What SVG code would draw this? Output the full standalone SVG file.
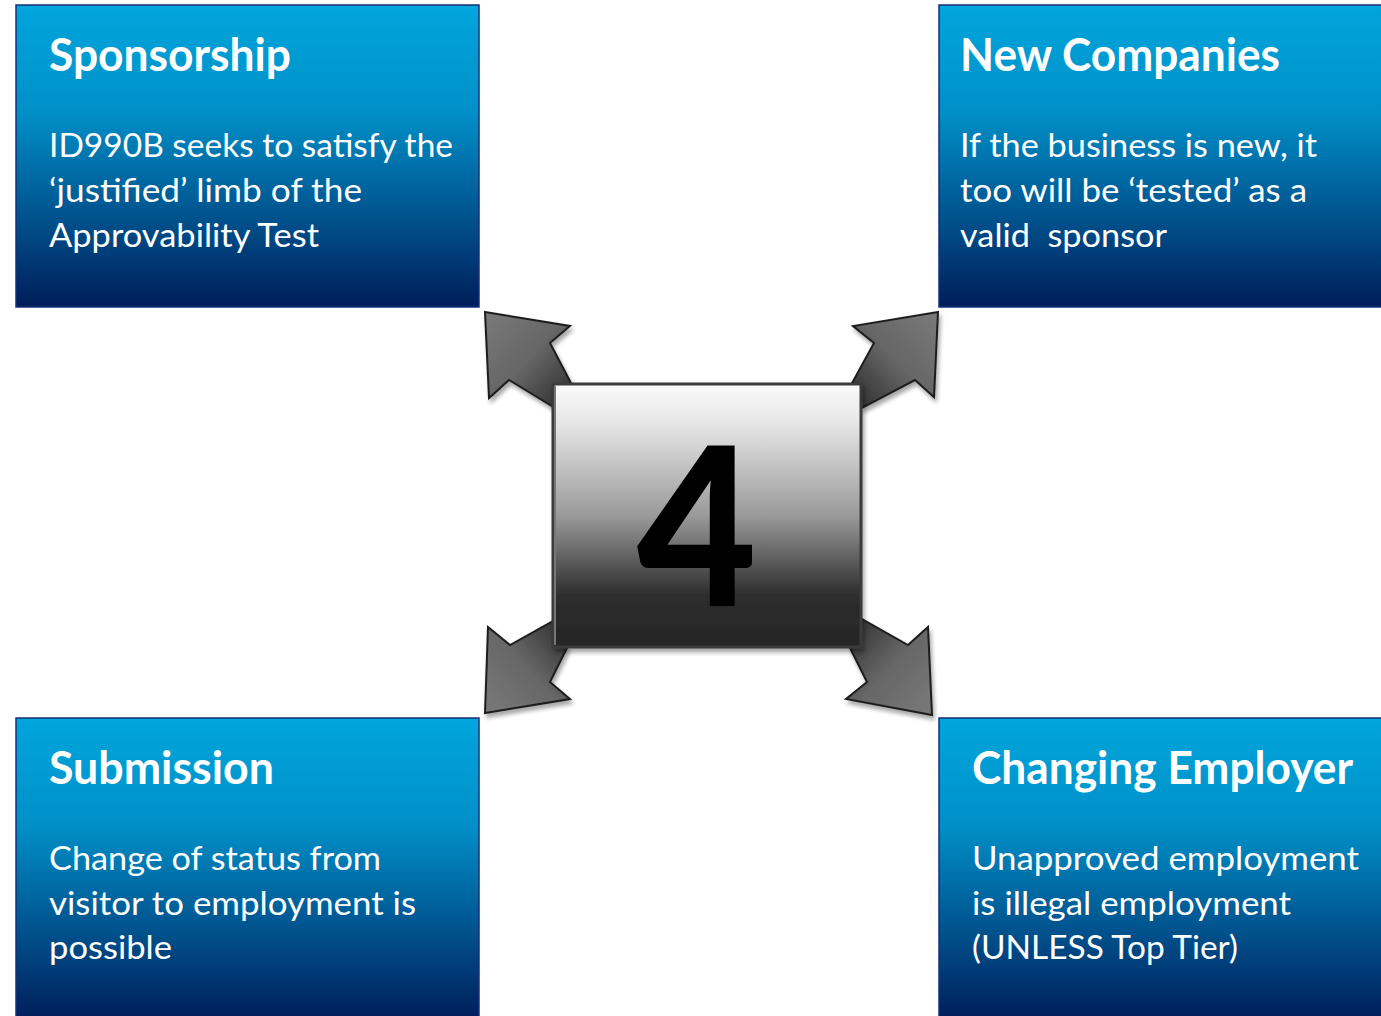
<svg xmlns="http://www.w3.org/2000/svg" width="1381" height="1016" viewBox="0 0 1381 1016">
<defs>
  <linearGradient id="blue" x1="0" y1="0" x2="0" y2="1">
    <stop offset="0" stop-color="#00A6DC"/>
    <stop offset="0.35" stop-color="#0090C8"/>
    <stop offset="0.7" stop-color="#00538E"/>
    <stop offset="1" stop-color="#001E5A"/>
  </linearGradient>
  <linearGradient id="center" x1="0" y1="0" x2="0" y2="1">
    <stop offset="0" stop-color="#FBFBFB"/>
    <stop offset="0.15" stop-color="#E6E6E6"/>
    <stop offset="0.5" stop-color="#9A9A9A"/>
    <stop offset="0.8" stop-color="#2E2E2E"/>
    <stop offset="1" stop-color="#252525"/>
  </linearGradient>
  <linearGradient id="arrTL" x1="0" y1="0" x2="1" y2="1">
    <stop offset="0" stop-color="#7A7A7A"/>
    <stop offset="0.5" stop-color="#666"/>
    <stop offset="1" stop-color="#2A2A2A"/>
  </linearGradient>
  <linearGradient id="arrTR" x1="1" y1="0" x2="0" y2="1">
    <stop offset="0" stop-color="#7A7A7A"/>
    <stop offset="0.5" stop-color="#666"/>
    <stop offset="1" stop-color="#2A2A2A"/>
  </linearGradient>
  <linearGradient id="arrBL" x1="0" y1="1" x2="1" y2="0">
    <stop offset="0" stop-color="#7A7A7A"/>
    <stop offset="0.5" stop-color="#666"/>
    <stop offset="1" stop-color="#2A2A2A"/>
  </linearGradient>
  <linearGradient id="arrBR" x1="1" y1="1" x2="0" y2="0">
    <stop offset="0" stop-color="#7A7A7A"/>
    <stop offset="0.5" stop-color="#666"/>
    <stop offset="1" stop-color="#2A2A2A"/>
  </linearGradient>
  <filter id="shadow" x="-20%" y="-20%" width="140%" height="140%">
    <feGaussianBlur in="SourceAlpha" stdDeviation="2"/>
    <feOffset dx="2" dy="4" result="o"/>
    <feComponentTransfer><feFuncA type="linear" slope="0.35"/></feComponentTransfer>
    <feMerge><feMergeNode/><feMergeNode in="SourceGraphic"/></feMerge>
  </filter>
</defs>
<style>
  .box { fill: url(#blue); stroke: #13307A; stroke-width: 1.5; }
  .title { font-family: Lato, "Open Sans", sans-serif; font-weight: 700; font-size: 46px; fill: #FFFFFF; }
  .body { font-family: Lato, "Open Sans", sans-serif; font-weight: 400; font-size: 33px; fill: #FFFFFF; }
  .arrow { stroke: #1E1E1E; stroke-width: 2; stroke-linejoin: miter; }
  .num { font-family: Lato, "Open Sans", sans-serif; font-weight: 900; font-size: 222px; fill: #000000; }
</style>

<g id="connectors">
  <path class="arrow" fill="url(#arrTL)" filter="url(#shadow)" d="M485,312 L570,326 L550,343 L572,385 L555,408 L509,380 L489,398 Z"/>
  <path class="arrow" fill="url(#arrTR)" filter="url(#shadow)" d="M938,312 L853,326 L874,343 L851,385 L862,408 L915,380 L934,397 Z"/>
  <path class="arrow" fill="url(#arrBL)" filter="url(#shadow)" d="M485,713 L488,627 L510,645 L555,620 L567,648 L550,682 L570,699 Z"/>
  <path class="arrow" fill="url(#arrBR)" filter="url(#shadow)" d="M932,715 L928,627 L908,645 L860,618 L850,648 L867,682 L846,699 Z"/>
</g>

<g id="center-node">
  <rect x="553" y="384" width="308" height="263" fill="url(#center)" stroke="#3A3A3A" stroke-width="3" filter="url(#shadow)"/>
  <line x1="555" y1="386" x2="555" y2="645" stroke="#777" stroke-width="2"/>
  <text class="num" x="697" y="606" text-anchor="middle" textLength="120" lengthAdjust="spacingAndGlyphs">4</text>
</g>

<g id="node-sponsorship">
  <rect class="box" x="16" y="5" width="463" height="302"/>
  <text class="title" x="49" y="71" textLength="242" lengthAdjust="spacingAndGlyphs">Sponsorship</text>
  <text class="body" x="49" y="157" textLength="404" lengthAdjust="spacingAndGlyphs">ID990B seeks to satisfy the</text>
  <text class="body" x="49" y="202" textLength="313" lengthAdjust="spacingAndGlyphs">‘justified’ limb of the</text>
  <text class="body" x="49" y="247" textLength="270" lengthAdjust="spacingAndGlyphs">Approvability Test</text>
</g>

<g id="node-new-companies">
  <rect class="box" x="939" y="5" width="445" height="302"/>
  <text class="title" x="960" y="71" textLength="320" lengthAdjust="spacingAndGlyphs">New Companies</text>
  <text class="body" x="960" y="157" textLength="357" lengthAdjust="spacingAndGlyphs">If the business is new, it</text>
  <text class="body" x="960" y="202" textLength="347" lengthAdjust="spacingAndGlyphs">too will be ‘tested’ as a</text>
  <text class="body" x="960" y="247" textLength="207" lengthAdjust="spacingAndGlyphs" xml:space="preserve">valid  sponsor</text>
</g>

<g id="node-submission">
  <rect class="box" x="16" y="718" width="463" height="302"/>
  <text class="title" x="49" y="784" textLength="225" lengthAdjust="spacingAndGlyphs">Submission</text>
  <text class="body" x="49" y="870" textLength="332" lengthAdjust="spacingAndGlyphs">Change of status from</text>
  <text class="body" x="49" y="915" textLength="367" lengthAdjust="spacingAndGlyphs">visitor to employment is</text>
  <text class="body" x="49" y="959" textLength="123" lengthAdjust="spacingAndGlyphs">possible</text>
</g>

<g id="node-changing-employer">
  <rect class="box" x="939" y="718" width="445" height="302"/>
  <text class="title" x="972" y="784" textLength="381" lengthAdjust="spacingAndGlyphs">Changing Employer</text>
  <text class="body" x="972" y="870" textLength="387" lengthAdjust="spacingAndGlyphs">Unapproved employment</text>
  <text class="body" x="972" y="915" textLength="319" lengthAdjust="spacingAndGlyphs">is illegal employment</text>
  <text class="body" x="972" y="959" textLength="266" lengthAdjust="spacingAndGlyphs">(UNLESS Top Tier)</text>
</g>
</svg>
